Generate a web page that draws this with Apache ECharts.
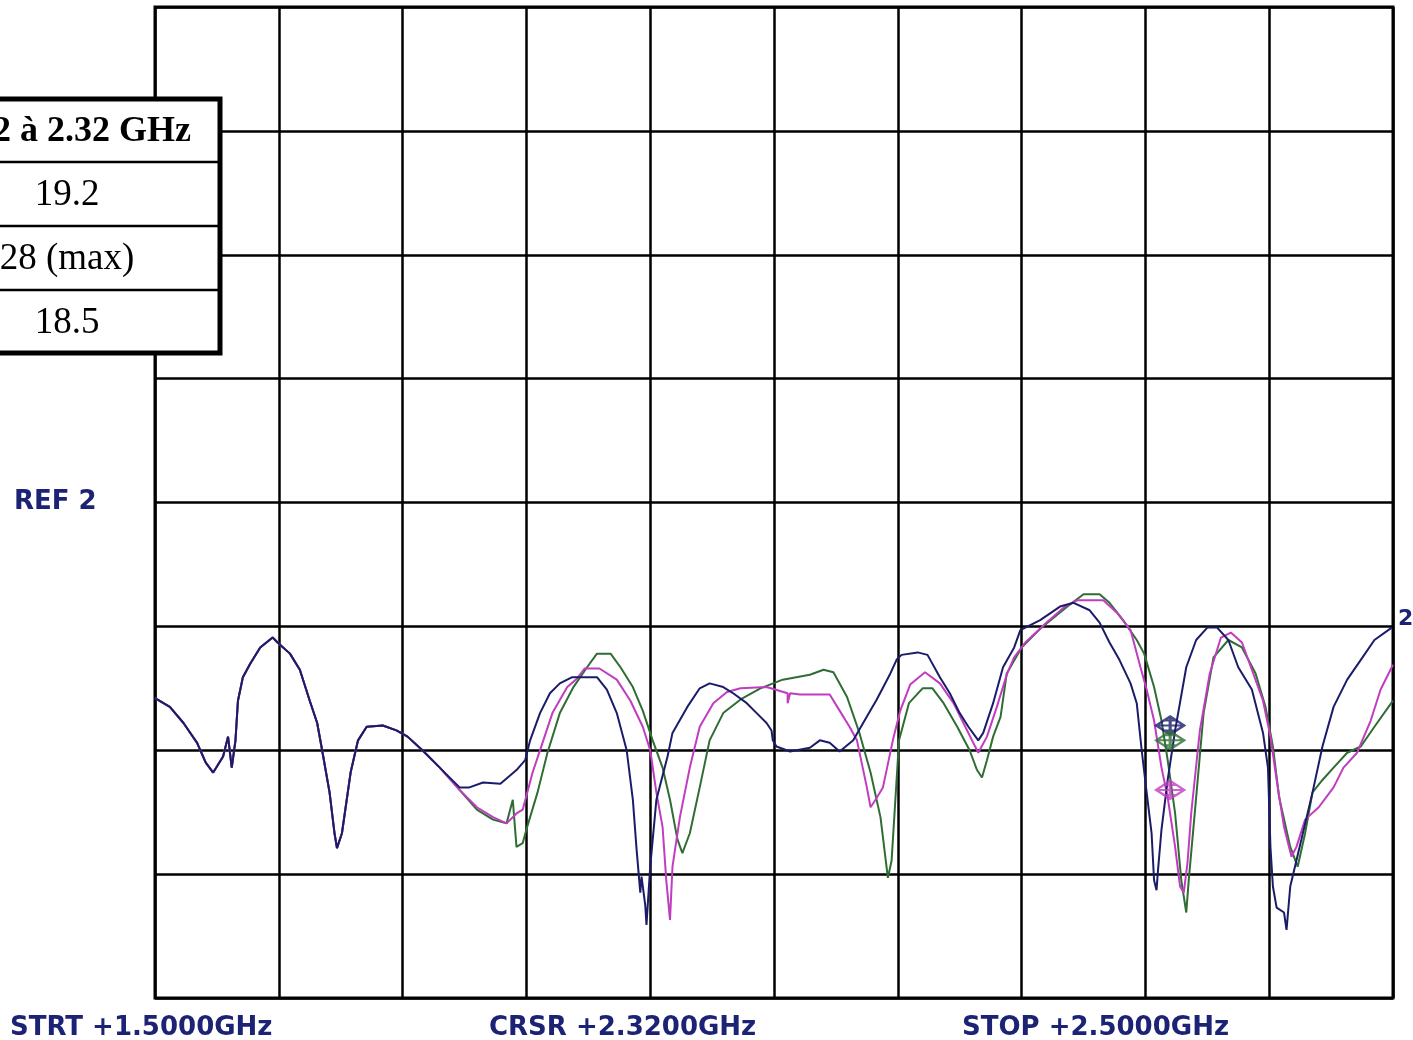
<!DOCTYPE html>
<html>
<head>
<meta charset="utf-8">
<title>Trace</title>
<script src="https://cdn.jsdelivr.net/npm/echarts@6/dist/echarts.min.js"></script>
<style>
  html, body { margin: 0; padding: 0; background: #fff; }
  #chart { width: 1413px; height: 1040px; }
</style>
</head>
<body>
<div id="chart"></div>
<script>
// x = frequency (GHz), y = level in screen divisions (0 = bottom line, 8 = top line)
var sharedStart = [
  [1.500, 2.42], [1.512, 2.35], [1.523, 2.22], [1.534, 2.06], [1.541, 1.90], [1.547, 1.82],
  [1.555, 1.95], [1.559, 2.11], [1.562, 1.86], [1.565, 2.08], [1.567, 2.40], [1.571, 2.59],
  [1.577, 2.70], [1.585, 2.83], [1.595, 2.91], [1.599, 2.87], [1.609, 2.78], [1.617, 2.65],
  [1.625, 2.40], [1.631, 2.22], [1.635, 2.00], [1.641, 1.66], [1.645, 1.33], [1.647, 1.21],
  [1.651, 1.33], [1.658, 1.82], [1.664, 2.08], [1.671, 2.19], [1.684, 2.20], [1.695, 2.16],
  [1.704, 2.11], [1.716, 2.00], [1.730, 1.86]
];

var navyTail = [
  [1.746, 1.70], [1.754, 1.70], [1.765, 1.74], [1.779, 1.73], [1.792, 1.84], [1.799, 1.92],
  [1.803, 2.08], [1.811, 2.30], [1.819, 2.46], [1.827, 2.54], [1.837, 2.59], [1.857, 2.59],
  [1.865, 2.49], [1.873, 2.30], [1.881, 2.00], [1.886, 1.60], [1.889, 1.20], [1.892, 0.85],
  [1.893, 0.98], [1.896, 0.75], [1.897, 0.59], [1.900, 1.06], [1.905, 1.60], [1.914, 1.95],
  [1.918, 2.14], [1.930, 2.35], [1.940, 2.50], [1.948, 2.54], [1.959, 2.51], [1.967, 2.46],
  [1.978, 2.38], [1.986, 2.30], [1.994, 2.22], [1.998, 2.16], [1.999, 2.08], [2.002, 2.03],
  [2.013, 1.99], [2.029, 2.02], [2.037, 2.08], [2.045, 2.06], [2.053, 1.99], [2.064, 2.08],
  [2.072, 2.22], [2.083, 2.41], [2.094, 2.62], [2.099, 2.73], [2.103, 2.77], [2.116, 2.79],
  [2.124, 2.77], [2.134, 2.59], [2.142, 2.46], [2.150, 2.30], [2.157, 2.19], [2.165, 2.08],
  [2.169, 2.14], [2.177, 2.38], [2.185, 2.67], [2.194, 2.83], [2.199, 2.97], [2.215, 3.05],
  [2.231, 3.16], [2.242, 3.19], [2.255, 3.13], [2.263, 3.03], [2.271, 2.87], [2.279, 2.73],
  [2.288, 2.54], [2.293, 2.38], [2.297, 2.00], [2.301, 1.66], [2.305, 1.33], [2.307, 0.95],
  [2.309, 0.87], [2.310, 1.01], [2.313, 1.36], [2.318, 1.76], [2.324, 2.16], [2.333, 2.67],
  [2.341, 2.89], [2.350, 2.99], [2.358, 2.99], [2.367, 2.89], [2.375, 2.67], [2.386, 2.49],
  [2.395, 2.14], [2.399, 1.86], [2.401, 1.22], [2.403, 0.90], [2.406, 0.73], [2.412, 0.69],
  [2.414, 0.55], [2.417, 0.90], [2.426, 1.28], [2.435, 1.66], [2.443, 2.03], [2.452, 2.35],
  [2.463, 2.57], [2.474, 2.73], [2.485, 2.89], [2.499, 2.99]
];

var magentaTail = [
  [1.746, 1.68], [1.760, 1.54], [1.773, 1.46], [1.784, 1.41], [1.792, 1.49], [1.797, 1.52],
  [1.805, 1.82], [1.813, 2.06], [1.821, 2.30], [1.833, 2.51], [1.841, 2.58], [1.847, 2.66],
  [1.859, 2.66], [1.873, 2.57], [1.884, 2.40], [1.894, 2.19], [1.900, 2.00], [1.905, 1.66],
  [1.910, 1.38], [1.913, 0.95], [1.916, 0.63], [1.918, 1.06], [1.924, 1.46], [1.932, 1.86],
  [1.940, 2.19], [1.951, 2.38], [1.962, 2.47], [1.973, 2.50], [1.994, 2.51], [2.011, 2.46],
  [2.011, 2.38], [2.013, 2.46], [2.021, 2.45], [2.045, 2.45], [2.053, 2.32], [2.061, 2.19],
  [2.067, 2.08], [2.075, 1.70], [2.078, 1.54], [2.082, 1.60], [2.088, 1.70], [2.096, 2.08],
  [2.102, 2.32], [2.110, 2.53], [2.122, 2.63], [2.134, 2.54], [2.145, 2.38], [2.153, 2.22],
  [2.160, 2.08], [2.165, 1.98], [2.172, 2.11], [2.180, 2.35], [2.188, 2.61], [2.194, 2.75],
  [2.203, 2.87], [2.220, 3.03], [2.235, 3.16], [2.245, 3.21], [2.266, 3.21], [2.277, 3.11],
  [2.288, 2.97], [2.296, 2.67], [2.301, 2.49], [2.307, 2.24], [2.313, 1.86], [2.318, 1.62],
  [2.324, 1.22], [2.328, 0.90], [2.331, 0.85], [2.334, 1.09], [2.337, 1.49], [2.344, 2.16],
  [2.352, 2.62], [2.361, 2.91], [2.369, 2.95], [2.378, 2.87], [2.386, 2.65], [2.395, 2.40],
  [2.401, 2.11], [2.406, 1.76], [2.412, 1.38], [2.418, 1.14], [2.422, 1.22], [2.429, 1.44],
  [2.440, 1.54], [2.452, 1.70], [2.460, 1.86], [2.471, 1.98], [2.482, 2.24], [2.490, 2.49],
  [2.500, 2.69]
];

var greenTail = [
  [1.746, 1.68], [1.760, 1.52], [1.773, 1.44], [1.784, 1.41], [1.789, 1.60], [1.792, 1.22],
  [1.797, 1.25], [1.800, 1.36], [1.809, 1.66], [1.817, 1.98], [1.827, 2.30], [1.838, 2.51],
  [1.849, 2.67], [1.857, 2.78], [1.868, 2.78], [1.876, 2.67], [1.886, 2.51], [1.894, 2.32],
  [1.902, 2.08], [1.910, 1.86], [1.916, 1.60], [1.922, 1.28], [1.926, 1.17], [1.932, 1.33],
  [1.940, 1.70], [1.948, 2.08], [1.959, 2.30], [1.973, 2.41], [1.989, 2.50], [2.007, 2.57],
  [2.029, 2.61], [2.040, 2.65], [2.048, 2.63], [2.059, 2.43], [2.069, 2.14], [2.078, 1.82],
  [2.086, 1.46], [2.092, 0.97], [2.095, 1.11], [2.101, 2.08], [2.109, 2.38], [2.120, 2.50],
  [2.128, 2.50], [2.137, 2.38], [2.148, 2.19], [2.158, 2.00], [2.164, 1.84], [2.168, 1.78],
  [2.172, 1.92], [2.177, 2.11], [2.183, 2.27], [2.188, 2.62], [2.200, 2.83], [2.216, 2.99],
  [2.237, 3.16], [2.250, 3.26], [2.263, 3.26], [2.271, 3.19], [2.282, 3.05], [2.293, 2.89],
  [2.299, 2.78], [2.307, 2.51], [2.313, 2.24], [2.318, 1.92], [2.324, 1.49], [2.329, 0.95],
  [2.333, 0.69], [2.335, 0.95], [2.341, 1.62], [2.347, 2.30], [2.355, 2.75], [2.367, 2.89],
  [2.378, 2.83], [2.389, 2.62], [2.397, 2.35], [2.403, 2.03], [2.408, 1.62], [2.417, 1.22],
  [2.423, 1.06], [2.429, 1.33], [2.435, 1.66], [2.443, 1.76], [2.452, 1.86], [2.463, 1.98],
  [2.474, 2.03], [2.485, 2.19], [2.500, 2.40]
];

// cursor markers at 2.32 GHz
var cursorFreq = 2.32;
var markerLevels = { navy: 2.20, green: 2.08, magenta: 1.68 };

var bottomLabels = ['STRT +1.5000GHz', 'CRSR +2.3200GHz', 'STOP +2.5000GHz'];
var tableHeader = '2.2 à 2.32 GHz';
var tableRows = ['19.2', '28 (max)', '18.5'];

var NAVY = '#1a1c6a';
var MAGENTA = '#c03cc0';
var GREEN = '#2f6d34';
var TEXT_NAVY = '#1c2274';

var navy = sharedStart.concat(navyTail);
var magenta = sharedStart.concat(magentaTail);
var green = sharedStart.concat(greenTail);

var markerPath = 'path://M0,9 L13,0 L26,9 L13,18 Z M0,9 L26,9 M13,0 L13,18 M6,4 L20,4 M6,14 L20,14';

function traceSeries(name, data, color) {
  return {
    name: name,
    type: 'line',
    data: data,
    showSymbol: false,
    symbol: 'none',
    lineStyle: { color: color, width: 2 },
    itemStyle: { color: color },
    animation: false
  };
}

function markerSeries(name, level, color) {
  return {
    name: name + '-mk',
    type: 'scatter',
    data: [[cursorFreq, level]],
    symbol: markerPath,
    symbolSize: [28, 18],
    itemStyle: { color: 'rgba(0,0,0,0)', borderColor: color, borderWidth: 2.5 },
    animation: false,
    z: 5
  };
}

var tableTop = 99, rowH = 64, tableRight = 220;
var tableGraphics = [
  {
    type: 'rect',
    shape: { x: -100, y: tableTop, width: tableRight + 100, height: rowH * 4 - 2 },
    style: { fill: '#fff', stroke: '#000', lineWidth: 5 },
    z: 100
  }
];
for (var i = 1; i < 4; i++) {
  tableGraphics.push({
    type: 'line',
    shape: { x1: -100, y1: tableTop + rowH * i - 1, x2: tableRight, y2: tableTop + rowH * i - 1 },
    style: { stroke: '#000', lineWidth: 2.5 },
    z: 101
  });
}
tableGraphics.push({
  type: 'text',
  x: 191, y: tableTop + rowH / 2 + 1,
  style: {
    text: tableHeader, fill: '#000', font: 'bold 36px "Liberation Serif"',
    textAlign: 'right', textVerticalAlign: 'middle'
  },
  z: 102
});
tableRows.forEach(function (t, k) {
  tableGraphics.push({
    type: 'text',
    x: 67, y: tableTop + rowH * (k + 1.5),
    style: {
      text: t, fill: '#000', font: '37px "Liberation Serif"',
      textAlign: 'center', textVerticalAlign: 'middle'
    },
    z: 102
  });
});

var labelX = [10, 489, 962];
var textGraphics = bottomLabels.map(function (t, k) {
  return {
    type: 'text',
    x: labelX[k], y: 1028,
    style: {
      text: t, fill: TEXT_NAVY, font: 'bold 26px "DejaVu Sans"',
      textAlign: 'left', textVerticalAlign: 'middle'
    },
    z: 50
  };
});
textGraphics.push({
  type: 'text', x: 14, y: 502,
  style: { text: 'REF 2', fill: TEXT_NAVY, font: 'bold 26px "DejaVu Sans"', textAlign: 'left', textVerticalAlign: 'middle' },
  z: 50
});
textGraphics.push({
  type: 'text', x: 1398, y: 619,
  style: { text: '2', fill: TEXT_NAVY, font: 'bold 22px "DejaVu Sans"', textAlign: 'left', textVerticalAlign: 'middle' },
  z: 50
});

var chart = echarts.init(document.getElementById('chart'), null, { renderer: 'canvas' });
chart.setOption({
  backgroundColor: '#fff',
  animation: false,
  grid: {
    left: 155, top: 7, width: 1238, height: 991,
    show: true, borderColor: '#000', borderWidth: 3, backgroundColor: '#fff'
  },
  xAxis: {
    type: 'value', min: 1.5, max: 2.5, interval: 0.1,
    axisLine: { show: false }, axisTick: { show: false }, axisLabel: { show: false },
    splitLine: { show: true, lineStyle: { color: '#000', width: 2.5 } }
  },
  yAxis: {
    type: 'value', min: 0, max: 8, interval: 1,
    axisLine: { show: false }, axisTick: { show: false }, axisLabel: { show: false },
    splitLine: { show: true, lineStyle: { color: '#000', width: 2.5 } }
  },
  series: [
    traceSeries('green', green, GREEN),
    traceSeries('magenta', magenta, MAGENTA),
    traceSeries('navy', navy, NAVY),
    markerSeries('navy', markerLevels.navy, NAVY),
    markerSeries('green', markerLevels.green, GREEN),
    markerSeries('magenta', markerLevels.magenta, MAGENTA)
  ],
  graphic: tableGraphics.concat(textGraphics)
});
</script>
</body>
</html>
